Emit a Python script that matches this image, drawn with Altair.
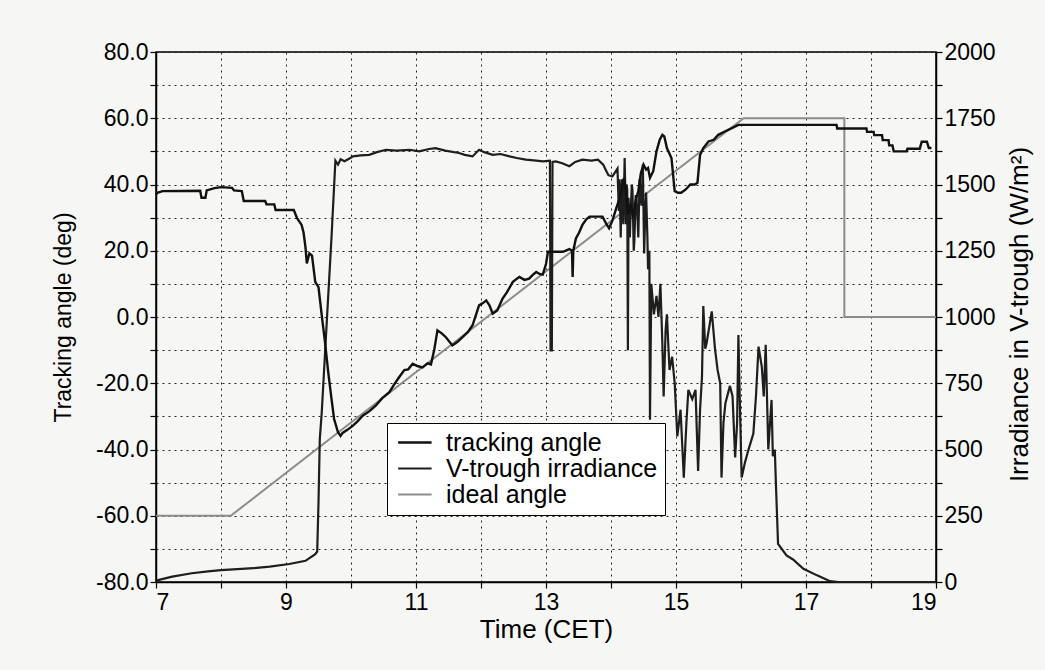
import altair as alt
import pandas as pd

# ---------------- data ----------------
track_t = [7.00, 7.02, 7.10, 7.68, 7.70, 7.76, 7.78, 7.90, 8.00, 8.17, 8.20, 8.32, 8.35, 8.68,
           8.70, 8.82, 8.84, 9.12, 9.17, 9.24, 9.27, 9.30, 9.32, 9.36, 9.40, 9.45, 9.50, 9.55,
           9.60, 9.65, 9.70, 9.74, 9.80, 9.84, 9.87, 9.95, 10.03, 10.10, 10.18, 10.28, 10.38,
           10.48, 10.59, 10.66, 10.74, 10.82, 10.88, 10.95, 11.02, 11.10, 11.18, 11.23, 11.28,
           11.33, 11.40, 11.46, 11.56, 11.64, 11.72, 11.80, 11.87, 11.92, 11.97, 12.03, 12.08,
           12.13, 12.18, 12.25, 12.33, 12.40, 12.49, 12.59, 12.67, 12.74, 12.80, 12.85, 12.90,
           12.95, 13.00, 13.03, 13.15, 13.26, 13.36, 13.40, 13.41, 13.42, 13.46, 13.51, 13.56,
           13.62, 13.67, 13.77, 13.87, 13.93, 13.97, 14.02, 14.08, 14.15, 14.20, 14.23, 14.26,
           14.30, 14.34, 14.38, 14.42, 14.46, 14.50, 14.54, 14.57, 14.60, 14.65, 14.70, 14.75,
           14.79, 14.82, 14.86, 14.93, 14.98, 15.03, 15.08, 15.15, 15.22, 15.29, 15.33, 15.37,
           15.42, 15.50, 15.58, 15.65, 15.75, 15.86, 15.96, 16.05, 17.47, 17.48, 17.93, 17.94,
           18.04, 18.05, 18.17, 18.18, 18.27, 18.28, 18.33, 18.35, 18.55, 18.56, 18.75, 18.78,
           18.86, 18.89, 18.93]
track_v = [37.0, 37.5, 38.0, 38.1, 36.0, 36.0, 38.2, 38.9, 39.2, 39.0, 38.2, 38.0, 35.0, 35.0,
           34.0, 34.0, 32.3, 32.3, 29.8, 27.8, 25.5, 21.0, 16.2, 19.2, 18.5, 10.6, 9.0, 0.5,
           -7.6, -16.7, -24.7, -30.8, -34.8, -35.9, -35.0, -34.0, -32.8, -31.5, -29.8, -28.5,
           -26.8, -24.5, -22.7, -20.5, -18.2, -16.0, -15.8, -14.1, -14.8, -15.2, -14.0, -14.3,
           -10.0, -4.0, -5.0, -6.1, -8.6, -7.5, -6.0, -4.5, -2.5, 0.5, 3.5, 4.2, 5.0, 3.5, 1.0,
           2.0, 5.5, 7.5, 10.6, 12.1, 11.2, 11.6, 12.8, 13.6, 13.0, 12.8, 16.0, 19.7, 19.7, 19.7,
           20.5, 20.0, 12.1, 20.0, 23.7, 25.5, 27.8, 29.5, 30.3, 30.3, 30.3, 28.0, 26.8, 29.0,
           32.8, 36.9, 42.0, 38.0, 31.0, 34.0, 30.0, 35.0, 38.0, 43.5, 46.0, 44.5, 45.0, 42.0,
           44.0, 50.0, 53.5, 55.0, 54.5, 51.0, 48.0, 38.0, 37.5, 37.5, 38.5, 40.0, 40.0, 40.5,
           48.9, 51.0, 53.0, 53.5, 55.0, 56.0, 57.0, 58.0, 58.0, 58.0, 56.9, 56.9, 55.9, 55.9,
           54.9, 54.9, 53.4, 53.4, 51.8, 51.8, 50.0, 50.0, 50.8, 50.8, 52.9, 52.9, 51.0, 51.0]

irr_t = [7.00, 7.25, 7.55, 7.80, 8.00, 8.50, 8.75, 9.05, 9.30, 9.45, 9.48, 9.50, 9.52, 9.55,
         9.62, 9.70, 9.76, 9.80, 9.84, 9.90, 9.99, 10.03, 10.15, 10.28, 10.40, 10.54, 10.70,
         10.90, 11.05, 11.20, 11.30, 11.45, 11.66, 11.75, 11.87, 11.97, 12.05, 12.18, 12.30,
         12.44, 12.55, 12.69, 12.85, 12.95, 13.06, 13.07, 13.09, 13.10, 13.15, 13.25, 13.36,
         13.45, 13.56, 13.70, 13.80, 13.88, 13.92, 13.96, 14.02, 14.06, 14.10, 14.12, 14.13,
         14.15, 14.16, 14.17, 14.19, 14.21, 14.23, 14.24, 14.25, 14.26, 14.27, 14.29, 14.30,
         14.32, 14.33, 14.35, 14.36, 14.38, 14.40, 14.42, 14.44, 14.47, 14.49, 14.51, 14.53,
         14.54, 14.56, 14.57, 14.59, 14.60, 14.62, 14.66, 14.70, 14.73, 14.76, 14.79, 14.81,
         14.84, 14.86, 14.90, 14.94, 14.98, 15.02, 15.07, 15.12, 15.16, 15.19, 15.25, 15.30,
         15.34, 15.37, 15.40, 15.42, 15.45, 15.47, 15.51, 15.55, 15.60, 15.64, 15.68, 15.70,
         15.73, 15.76, 15.83, 15.87, 15.91, 15.94, 15.96, 15.98, 16.01, 16.06, 16.11, 16.19,
         16.23, 16.27, 16.32, 16.35, 16.38, 16.42, 16.47, 16.49, 16.52, 16.54, 16.57, 16.70,
         16.80, 16.96, 17.17, 17.37, 17.50, 19.00]
irr_v = [5, 20, 33, 40, 45, 52, 58, 68, 80, 105, 115, 300, 540, 640,
         950, 1300, 1590, 1575, 1595, 1588, 1600, 1606, 1610, 1612, 1622, 1631, 1628,
         1631, 1625, 1634, 1637, 1628, 1619, 1612, 1606, 1631, 1622, 1612, 1615,
         1606, 1600, 1594, 1590, 1587, 1590, 874, 874, 1585, 1587, 1580, 1569,
         1585, 1594, 1590, 1594, 1575, 1555, 1535, 1530, 1545, 1560, 1400, 1520,
         1300, 1480, 1520, 1350, 1600, 1350, 1500, 1480, 875, 1450, 1300, 1380,
         1500, 1480, 1250, 1290, 1460, 1420, 1300, 1520, 1420, 1575,
         1240, 1420, 1470, 1300, 1180, 1250, 612, 1125, 1010, 1080, 1000, 1125, 900, 700,
         950, 1010, 800, 850, 750, 550, 650, 394, 600, 725, 690, 725,
         419, 650, 775, 1041, 880, 900, 960, 1021, 880, 800, 750, 394,
         600, 675, 740, 700, 470, 600, 932, 700, 394, 450, 495, 560,
         700, 888, 812, 700, 895, 500, 687, 475, 500, 350, 144, 100,
         85, 50, 25, 3, 0, 0]

ideal_t = [7.00, 8.15, 16.04, 17.59, 17.59, 19.00]
ideal_v = [-60.0, -60.0, 60.0, 60.0, 0.0, 0.0]

series_names = ["tracking angle", "V-trough irradiance", "ideal angle"]
series_colors = ["#111111", "#1e1e1e", "#8c8c8c"]
series_widths = [2.4, 2.0, 1.1]

# ---------------- tables ----------------
df_track = pd.DataFrame({"t": track_t, "v": track_v, "series": series_names[0],
                         "i": range(len(track_t))})
df_irr = pd.DataFrame({"t": irr_t, "v": irr_v, "series": series_names[1],
                       "i": range(len(irr_t))})
df_ideal = pd.DataFrame({"t": ideal_t, "v": ideal_v, "series": series_names[2],
                         "i": range(len(ideal_t))})

FONT = "Liberation Sans"
BG = "#f6f6f4"

color_scale = alt.Scale(domain=series_names, range=series_colors)
width_scale = alt.Scale(domain=series_names, range=series_widths)


def make_legend():
    return alt.Legend(title=None, orient="none", legendX=231, legendY=371,
                      fillColor="white", strokeColor="black", padding=7,
                      labelFontSize=25, labelFont=FONT, labelColor="black",
                      symbolType="M-1,0H3", symbolSize=280, rowPadding=0,
                      labelOffset=27, labelLimit=400)


x_enc = alt.X("t:Q", scale=alt.Scale(domain=[7, 19], nice=False, zero=False),
              axis=alt.Axis(values=list(range(7, 20)),
                            labelExpr="datum.value % 2 == 1 ? datum.value : ''",
                            title="Time (CET)", grid=True, gridColor="#222222",
                            gridDash=[2, 4], gridWidth=1, tickSize=6,
                            labelFontSize=23, titleFontSize=26,
                            titleY=47, titleBaseline="middle",
                            labelPadding=3))

deg_scale = alt.Scale(domain=[-80, 80], nice=False, zero=False)
irr_scale = alt.Scale(domain=[0, 2000], nice=False, zero=False)

left_axis = alt.Axis(values=list(range(-80, 81, 10)),
                     labelExpr="datum.value % 20 == 0 ? replace(format(datum.value, '.1f'), '\u2212', '-') : ''",
                     title="Tracking angle (deg)", grid=True, gridColor="#222222",
                     gridDash=[2, 4], gridWidth=1, tickSize=6, labelFontSize=23,
                     titleFontSize=23, titleX=-93, titleY=265, titleAngle=270,
                     titleBaseline="middle", labelPadding=2)

right_axis = alt.Axis(orient="right", values=list(range(0, 2001, 125)), format="d",
                      labelExpr="datum.value % 250 == 0 ? datum.label : ''",
                      title="Irradiance in V-trough (W/m\u00b2)", titleAngle=270,
                      titleX=83, titleY=262, titleBaseline="middle",
                      grid=False, tickSize=6, labelFontSize=23, titleFontSize=26,
                      labelPadding=2)

ideal_layer = alt.Chart(df_ideal).mark_line(interpolate="linear").encode(
    x=x_enc,
    y=alt.Y("v:Q", scale=deg_scale, axis=left_axis),
    color=alt.Color("series:N", scale=color_scale, legend=make_legend()),
    strokeWidth=alt.StrokeWidth("series:N", scale=width_scale, legend=make_legend()),
    order="i:Q",
)

irr_layer = alt.Chart(df_irr).mark_line(interpolate="linear").encode(
    x=x_enc,
    y=alt.Y("v:Q", scale=irr_scale, axis=right_axis),
    color=alt.Color("series:N", scale=color_scale, legend=make_legend()),
    strokeWidth=alt.StrokeWidth("series:N", scale=width_scale, legend=make_legend()),
    order="i:Q",
)

track_layer = alt.Chart(df_track).mark_line(interpolate="linear").encode(
    x=x_enc,
    y=alt.Y("v:Q", scale=deg_scale, axis=None),
    color=alt.Color("series:N", scale=color_scale, legend=make_legend()),
    strokeWidth=alt.StrokeWidth("series:N", scale=width_scale, legend=make_legend()),
    order="i:Q",
)

chart = alt.layer(ideal_layer, irr_layer, track_layer).resolve_scale(
    y="independent"
).properties(
    width=780, height=530,
    autosize=alt.AutoSizeParams(type="none"),
    padding={"left": 156, "top": 52, "right": 109, "bottom": 88},
    background=BG,
).configure_view(
    stroke="black", strokeWidth=1.5, fill=BG,
).configure_axis(
    labelFont=FONT, titleFont=FONT, labelColor="black", titleColor="black",
    titleFontWeight="normal", domainColor="black", domainWidth=1.5,
    tickColor="black", tickWidth=1.2,
)

chart.save("out.html", embed_options={"renderer": "svg", "actions": False})
